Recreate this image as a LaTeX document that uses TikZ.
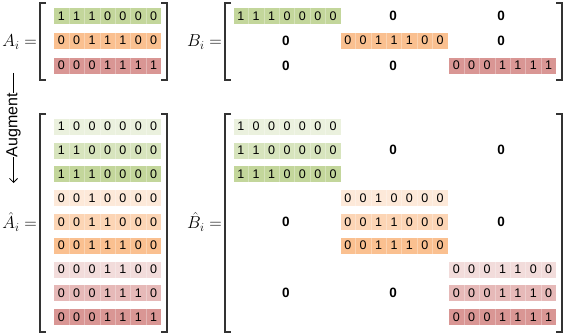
\documentclass[tikz,border=0pt]{standalone}
\usepackage{fontspec}
\setmainfont{Liberation Sans}
\usepackage{amsmath}
\usetikzlibrary{arrows.meta}

\definecolor{gL}{HTML}{EBF1DE}
\definecolor{gM}{HTML}{D7E4BD}
\definecolor{gF}{HTML}{C3D69B}
\definecolor{oL}{HTML}{FDE9D9}
\definecolor{oM}{HTML}{FCD5B5}
\definecolor{oF}{HTML}{FAC090}
\definecolor{rL}{HTML}{F2DCDB}
\definecolor{rM}{HTML}{E6B9B8}
\definecolor{rF}{HTML}{D99694}

\newcommand\bits[7]{\makebox[15.4pt]{#1}\makebox[15.4pt]{#2}\makebox[15.4pt]{#3}\makebox[15.4pt]{#4}\makebox[15.4pt]{#5}\makebox[15.4pt]{#6}\makebox[15.4pt]{#7}}

\tikzset{
  row/.style={fill=#1, draw=white, line width=0.4pt, minimum width=108pt, minimum height=17pt,
    inner sep=0pt, font=\fontsize{12.5}{14}\selectfont,
    path picture={\foreach \k in {1,...,6}
      \draw[white, opacity=0.3, line width=0.5pt]
        ([xshift=\k*15.43pt]path picture bounding box.south west) --
        ([xshift=\k*15.43pt]path picture bounding box.north west);}},
  zero/.style={inner sep=0pt, font=\fontsize{13.5}{14}\selectfont\bfseries},
  lbl/.style={anchor=east, inner sep=0pt, font=\fontsize{18}{20}\selectfont},
  brk/.style={draw=black!80, line width=1.2pt}
}

\begin{document}
\begin{tikzpicture}[x=1pt, y=-1pt]
\useasboundingbox (0,0) rectangle (565,334);

% top: A_i and B_i
\node[lbl] (A) at (37,42) {$A_i =$};
\node[lbl] (B) at (222,42) {$B_i =$};
\draw[brk] (46,3) -- (40,3) -- (40,80) -- (46,80);
\draw[brk] (161,3) -- (167,3) -- (167,80) -- (161,80);
\draw[brk] (231,3) -- (225,3) -- (225,80) -- (231,80);
\draw[brk] (556,3) -- (562,3) -- (562,80) -- (556,80);

\foreach \b/\c/\x/\y [count=\i] in {1110000/gF/287/16, 0011100/oF/394/40.5, 0001111/rF/502.5/65.5}
{\node[row=\c] (a\i) at (107.5,\y) {\expandafter\bits\b};
 \node[row=\c] (b\i) at (\x,\y) {\expandafter\bits\b};}

\foreach \n/\x/\y in {12/393/16, 13/501/16, 21/286/40.5, 23/501/40.5, 31/286/65.5, 32/393/65.5}
{\node[zero] (bz\n) at (\x,\y) {0};}

% augment arrow
\node[rotate=90, inner sep=0pt, font=\fontsize{16}{18}\selectfont] (aug) at (13.5,125) {Augment};
\coordinate (augtop) at (13.5,73);
\coordinate (augbot) at (13.5,183);
\draw[line width=0.8pt] (augtop) -- (aug.east);
\draw[line width=0.8pt, -{Straight Barb[length=4pt, width=8pt]}] (aug.west) -- (augbot);

% bottom: hat A_i and hat B_i
\node[lbl] (Ah) at (37,222) {$\hat{A}_i =$};
\node[lbl] (Bh) at (222,222) {$\hat{B}_i =$};
\draw[brk] (46,114) -- (40,114) -- (40,332) -- (46,332);
\draw[brk] (161,114) -- (167,114) -- (167,332) -- (161,332);
\draw[brk] (231,114) -- (225,114) -- (225,332) -- (231,332);
\draw[brk] (556,114) -- (562,114) -- (562,332) -- (556,332);

\foreach \b/\c/\x [count=\i from 0] in {1000000/gL/287, 1100000/gM/287, 1110000/gF/287,
  0010000/oL/394, 0011000/oM/394, 0011100/oF/394,
  0001100/rL/502.5, 0001110/rM/502.5, 0001111/rF/502.5}
{\node[row=\c] (ah\i) at (107.5,126.5+23.8*\i) {\expandafter\bits\b};
 \node[row=\c] (bh\i) at (\x,126.5+23.8*\i) {\expandafter\bits\b};}

\foreach \n/\x/\y in {12/393/150.3, 13/501/150.3, 21/286/221.7, 23/501/221.7, 31/286/293.1, 32/393/293.1}
{\node[zero] (bhz\n) at (\x,\y) {0};}

\end{tikzpicture}
\end{document}
